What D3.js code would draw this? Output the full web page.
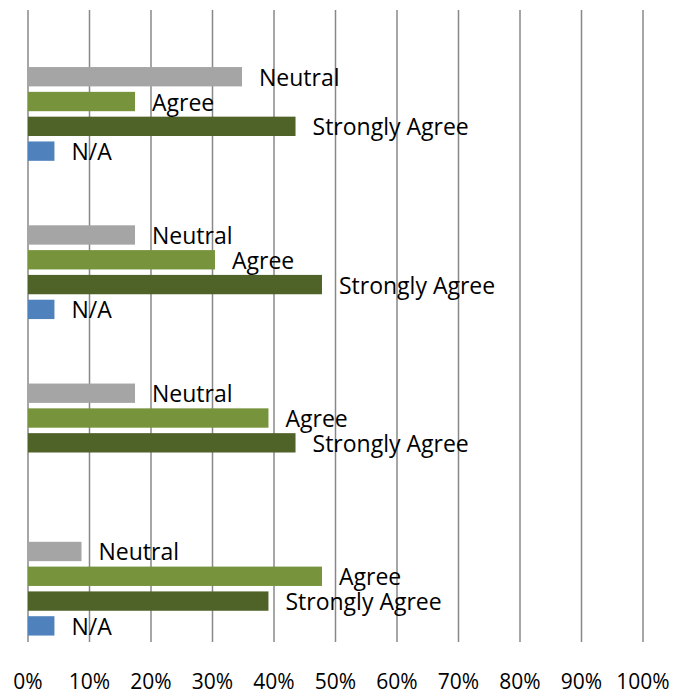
<!DOCTYPE html>
<html>
<head>
<meta charset="utf-8">
<script src="https://cdn.jsdelivr.net/npm/d3@7"></script>
<style>
  body { margin: 0; background: #fff; }
  text { font-family: "Open Sans", sans-serif; fill: #000; }
</style>
</head>
<body>
<div id="chart"></div>
<script>
// four question groups, top to bottom
const groups = ["Q1", "Q2", "Q3", "Q4"];
// series in the order they are stacked inside a group (top to bottom)
const series = ["Strongly Disagree", "Disagree", "Neutral", "Agree", "Strongly Agree", "N/A"];
const stronglyDisagree = [0, 0, 0, 0];
const disagree = [0, 0, 0, 0];
const neutral = [34.8, 17.4, 17.4, 8.7];
const agree = [17.4, 30.4, 39.1, 47.8];
const stronglyAgree = [43.5, 47.8, 43.5, 39.1];
const na = [4.3, 4.3, 0, 4.3];
const ticks = [0, 10, 20, 30, 40, 50, 60, 70, 80, 90, 100];
const colors = ["#a5a5a5", "#a5a5a5", "#a5a5a5", "#77933c", "#4f6228", "#4f81bd"];

const values = [stronglyDisagree, disagree, neutral, agree, stronglyAgree, na];

const width = 682;
const height = 696;
const margin = { top: 10, bottom: 53, left: 28, right: 39 };

const svg = d3.select("#chart").append("svg")
    .attr("width", width)
    .attr("height", height);

const x = d3.scaleLinear()
    .domain([0, 100])
    .range([margin.left, width - margin.right]);

const y = d3.scaleBand()
    .domain(groups)
    .range([margin.top, height - margin.bottom]);

const yInner = d3.scaleBand()
    .domain(series)
    .range([0, y.bandwidth()])
    .paddingInner(0.22)
    .paddingOuter(0.30);

// gridlines
svg.append("g")
  .selectAll("line")
  .data(ticks)
  .enter()
  .append("line")
    .attr("x1", d => x(d))
    .attr("x2", d => x(d))
    .attr("y1", margin.top)
    .attr("y2", height - margin.bottom - 1)
    .attr("stroke", "#888")
    .attr("stroke-width", 1.5);

// flatten into bar records
const bars = [];
groups.forEach(function(g, i) {
  series.forEach(function(s, j) {
    bars.push({ group: g, name: s, value: values[j][i], color: colors[j] });
  });
});

svg.selectAll(".bar")
  .data(bars.filter(d => d.value > 0))
  .enter()
  .append("rect")
    .attr("class", "bar")
    .attr("x", x(0))
    .attr("y", d => y(d.group) + yInner(d.name))
    .attr("width", d => x(d.value) - x(0))
    .attr("height", yInner.bandwidth())
    .attr("fill", d => d.color);

// labels sit just past the bar end
svg.selectAll(".label")
  .data(bars.filter(d => d.value > 0))
  .enter()
  .append("text")
    .attr("class", "label")
    .attr("x", d => x(d.value) + 17)
    .attr("y", d => y(d.group) + yInner(d.name) + yInner.bandwidth() / 2 + 9)
    .attr("font-size", 23)
    .text(d => d.name);

// x axis labels
svg.append("g")
  .selectAll("text")
  .data(ticks)
  .enter()
  .append("text")
    .attr("x", d => x(d))
    .attr("y", 689)
    .attr("text-anchor", "middle")
    .attr("font-size", 21)
    .text(d => d + "%");
</script>
</body>
</html>
